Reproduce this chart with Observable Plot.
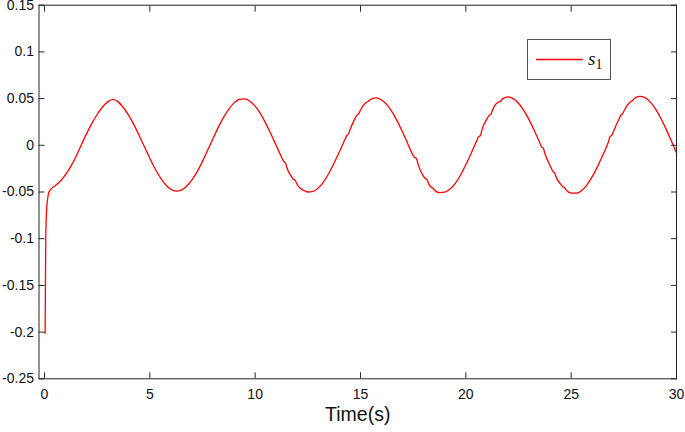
<!DOCTYPE html>
<html><head><meta charset="utf-8">
<script src="https://cdn.jsdelivr.net/npm/d3@7"></script>
<script src="https://cdn.jsdelivr.net/npm/@observablehq/plot@0.6"></script>
<style>
body{margin:0;background:#fff;}
#wrap{position:relative;width:685px;height:432px;}
#legend{position:absolute;left:527px;top:39px;width:84px;height:41px;border:1px solid #555;box-sizing:border-box;background:#fff;}
</style></head><body><div id="wrap"></div>
<script>
const time = [0.03,0.06,0.1,0.15,0.2,0.27,0.5,0.75,1.0,1.25,1.5,1.75,2.0,2.25,2.5,2.75,3.0,3.25,3.5,3.75,4.0,4.25,4.5,4.75,5.0,5.25,5.5,5.75,6.0,6.25,6.5,6.75,7.0,7.25,7.5,7.75,8.0,8.25,8.5,8.75,9.0,9.25,9.5,9.75,10.0,10.25,10.5,10.75,11.0,11.25,11.35,11.45,11.5,11.75,11.8,11.9,12.0,12.25,12.5,12.75,13.0,13.25,13.5,13.75,14.0,14.25,14.35,14.42,14.5,14.75,14.85,14.92,15.0,15.25,15.3,15.38,15.5,15.75,16.0,16.25,16.5,16.75,17.0,17.25,17.5,17.55,17.65,17.75,18.0,18.05,18.15,18.25,18.38,18.45,18.5,18.75,19.0,19.25,19.5,19.75,20.0,20.25,20.5,20.6,20.7,20.75,21.0,21.1,21.2,21.25,21.5,21.55,21.65,21.75,22.0,22.25,22.5,22.75,23.0,23.25,23.5,23.6,23.68,23.75,24.0,24.15,24.22,24.25,24.5,24.6,24.68,24.75,25.0,25.25,25.5,25.75,26.0,26.25,26.5,26.75,26.85,26.93,27.0,27.25,27.38,27.45,27.5,27.75,27.85,27.92,28.0,28.25,28.5,28.75,29.0,29.25,29.5,29.75,30.0];
const s1 = [-0.2015,-0.1,-0.07,-0.057,-0.051,-0.048,-0.0435,-0.0385,-0.0315,-0.0225,-0.012,0.0005,0.0125,0.0235,0.033,0.041,0.0465,0.0492,0.0465,0.0402,0.032,0.0219,0.0103,-0.0018,-0.0139,-0.0251,-0.0347,-0.0422,-0.0471,-0.049,-0.0479,-0.0438,-0.037,-0.0282,-0.0172,-0.0051,0.0072,0.0192,0.0299,0.0388,0.0454,0.0492,0.0497,0.0472,0.0419,0.0339,0.0237,0.012,-0.0002,-0.0125,-0.017,-0.0195,-0.0235,-0.0343,-0.0362,-0.0375,-0.0422,-0.0476,-0.05,-0.0494,-0.0456,-0.0391,-0.0299,-0.0189,-0.0069,0.0057,0.0105,0.0118,0.0165,0.0291,0.0328,0.0338,0.0378,0.0455,0.0462,0.0472,0.0495,0.0508,0.0485,0.0435,0.0357,0.0256,0.014,0.0015,-0.0109,-0.0125,-0.014,-0.0215,-0.0335,-0.035,-0.0365,-0.0418,-0.0452,-0.046,-0.0478,-0.0506,-0.0502,-0.0469,-0.0407,-0.0318,-0.0208,-0.0087,0.004,0.009,0.0105,0.0155,0.0281,0.0318,0.0335,0.0368,0.0456,0.0462,0.0472,0.05,0.0518,0.05,0.045,0.0374,0.0275,0.0158,0.0032,-0.002,-0.0032,-0.0085,-0.0219,-0.0285,-0.0295,-0.0318,-0.0416,-0.0443,-0.0452,-0.0475,-0.0511,-0.0513,-0.0483,-0.0423,-0.0336,-0.0228,-0.0105,0.0024,0.0095,0.0107,0.0145,0.0271,0.033,0.034,0.0365,0.0453,0.0472,0.048,0.0502,0.0524,0.051,0.0465,0.0391,0.0293,0.0176,0.0049,-0.0081];
const xTicks = [0,5,10,15,20,25,30];
const xTickLabels = ["0","5","10","15","20","25","30"];
const yTicks = [-0.25,-0.2,-0.15,-0.1,-0.05,0,0.05,0.1,0.15];
const yTickLabels = ["-0.25","-0.2","-0.15","-0.1","-0.05","0","0.05","0.1","0.15"];
const xLabel = "Time(s)";
const seriesName = "s";
const seriesSub = "1";

const data = time.map((t, i) => ({t, v: s1[i]}));
const axisColor = "#262626";
const blank = () => "";

const chart = Plot.plot({
  width: 685, height: 432,
  marginLeft: 38.5, marginRight: 9, marginTop: 4.7, marginBottom: 53.7,
  x: {domain: [-0.26, 30]},
  y: {domain: [-0.25, 0.15]},
  style: {fontFamily: "'Liberation Sans', Arial, Helvetica, sans-serif", fontSize: "14px", color: axisColor, background: "white"},
  marks: [
    Plot.line(data, {x: "t", y: "v", stroke: "#ff0000", strokeWidth: 1.3, curve: "monotone-x"}),
    Plot.frame({stroke: axisColor, strokeWidth: 1}),
    Plot.axisX(xTicks, {anchor: "bottom", tickSize: 0, tickPadding: 10, label: null, tickFormat: d => xTickLabels[xTicks.indexOf(d)], fontSize: 14, fill: "#111"}),
    Plot.axisX(xTicks, {anchor: "bottom", tickSize: 6, dy: -6, tickFormat: blank, label: null, stroke: axisColor}),
    Plot.axisX(xTicks, {anchor: "top", tickSize: 6, dy: 6, tickFormat: blank, label: null, stroke: axisColor}),
    Plot.axisY(yTicks, {anchor: "left", tickSize: 0, tickPadding: 5, label: null, tickFormat: d => yTickLabels[yTicks.indexOf(d)], fontSize: 14, fill: "#111"}),
    Plot.axisY(yTicks, {anchor: "left", tickSize: 6, dx: 6, tickFormat: blank, label: null, stroke: axisColor}),
    Plot.axisY(yTicks, {anchor: "right", tickSize: 6, dx: -6, tickFormat: blank, label: null, stroke: axisColor}),
    Plot.text([xLabel], {frameAnchor: "bottom", dy: 42, fontSize: 19.5, fill: "#111", text: d => d})
  ]
});
const wrap = document.getElementById("wrap");
wrap.appendChild(chart);

const legend = document.createElement("div");
legend.id = "legend";
legend.innerHTML = `<svg width="84" height="41" style="position:absolute;left:-1px;top:-1px;overflow:visible">
<line x1="9" x2="56" y1="20.5" y2="20.5" stroke="#ff0000" stroke-width="1.3"/>
<text x="61" y="26" font-family="'Liberation Serif', 'DejaVu Serif', serif" font-style="italic" font-size="19" fill="#111">${seriesName}<tspan font-style="normal" font-size="14" dy="4">${seriesSub}</tspan></text>
</svg>`;
wrap.appendChild(legend);
</script>
</body></html>
